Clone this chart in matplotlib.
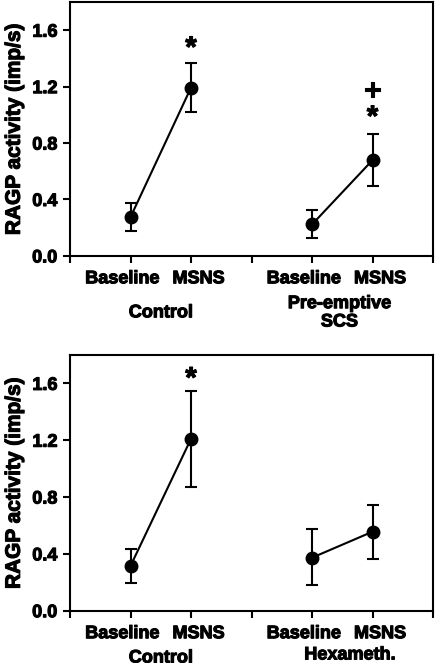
import matplotlib
matplotlib.use("Agg")
import matplotlib.pyplot as plt
import matplotlib.patheffects as pe
import matplotlib.transforms as mtransforms

plt.rcParams['font.family'] = ['Liberation Sans', 'DejaVu Sans']
plt.rcParams['font.weight'] = 'bold'

heavy = [pe.withStroke(linewidth=0.8, foreground='black')]

conditions = ["Baseline", "MSNS"]
x_pos = [1, 2, 4, 5]

# Top panel
top_groups = ["Control", "Pre-emptive\nSCS"]
top_means = [0.275, 1.193, 0.223, 0.679]
top_upper = [0.376, 1.365, 0.324, 0.862]
top_lower = [0.178, 1.020, 0.125, 0.498]
top_marks = [(2, 1.47, "*"), (5, 0.98, "*"), (5, 1.17, "+")]

# Bottom panel
bot_groups = ["Control", "Hexameth."]
bot_means = [0.315, 1.21, 0.373, 0.556]
bot_upper = [0.434, 1.546, 0.573, 0.746]
bot_lower = [0.193, 0.873, 0.181, 0.366]
bot_marks = [(2, 1.63, "*")]

yticks = [0.0, 0.4, 0.8, 1.2, 1.6]

fig = plt.figure(figsize=(4.36, 6.63), dpi=100)
ax1 = fig.add_axes([0.1606, 0.614, 0.8326, 0.383])
ax2 = fig.add_axes([0.1606, 0.0789, 0.8326, 0.3857])


def draw(ax, means, upper, lower, groups, marks, group_y, group_dx):
    for i in range(2):
        xs = x_pos[2 * i:2 * i + 2]
        ms = means[2 * i:2 * i + 2]
        up = upper[2 * i:2 * i + 2]
        lo = lower[2 * i:2 * i + 2]
        err = [[m - l for m, l in zip(ms, lo)], [u - m for m, u in zip(ms, up)]]
        ax.errorbar(xs, ms, yerr=err, color='black', lw=1.5, elinewidth=1.5,
                    capsize=4, capthick=1.5, marker='o', markersize=9,
                    markerfacecolor='black', markeredgecolor='black')
    for x, y, s in marks:
        ax.text(x, y, s, ha='center', va='center', fontsize=21,
                fontweight='bold', path_effects=heavy)
    ax.set_xlim(0, 6)
    ax.set_ylim(0, 1.8)
    ax.set_yticks(yticks)
    ax.set_yticklabels([f"{v:.1f}" for v in yticks], fontsize=13, fontweight='bold')
    ax.set_xticks(range(7))
    ax.set_xticklabels([])
    for lab in ax.get_yticklabels():
        lab.set_path_effects(heavy)
    ax.tick_params(axis='both', direction='out', length=5, width=1.5)
    ax.tick_params(axis='y', pad=4)
    for sp in ax.spines.values():
        sp.set_linewidth(1.5)
    yl = ax.set_ylabel("RAGP activity (imp/s)", fontsize=15, fontweight='bold', labelpad=6)
    yl.set_path_effects(heavy)
    xt = ax.get_xaxis_transform()
    for j, x in enumerate(x_pos):
        lbl = conditions[j % 2]
        dx = -6.0 if j % 2 == 0 else 5.5
        tr = xt + mtransforms.ScaledTranslation(dx / 72, 0, fig.dpi_scale_trans)
        ax.text(x, -0.09, lbl, ha='center', va='center', fontsize=13, fontweight='bold',
                transform=tr, path_effects=heavy)
    for gx, g, gy, gdx in zip([1.5, 4.5], groups, group_y, group_dx):
        tr = xt + mtransforms.ScaledTranslation(gdx / 72, 0, fig.dpi_scale_trans)
        ax.text(gx, gy, g, ha='center', va='center', fontsize=13, fontweight='bold',
                transform=tr, linespacing=1.1, path_effects=heavy)


draw(ax1, top_means, top_upper, top_lower, top_groups, top_marks, [-0.224, -0.224], [0, -2])
draw(ax2, bot_means, bot_upper, bot_lower, bot_groups, bot_marks, [-0.185, -0.173], [0, 5.5])

fig.savefig("out.png", dpi=100)
